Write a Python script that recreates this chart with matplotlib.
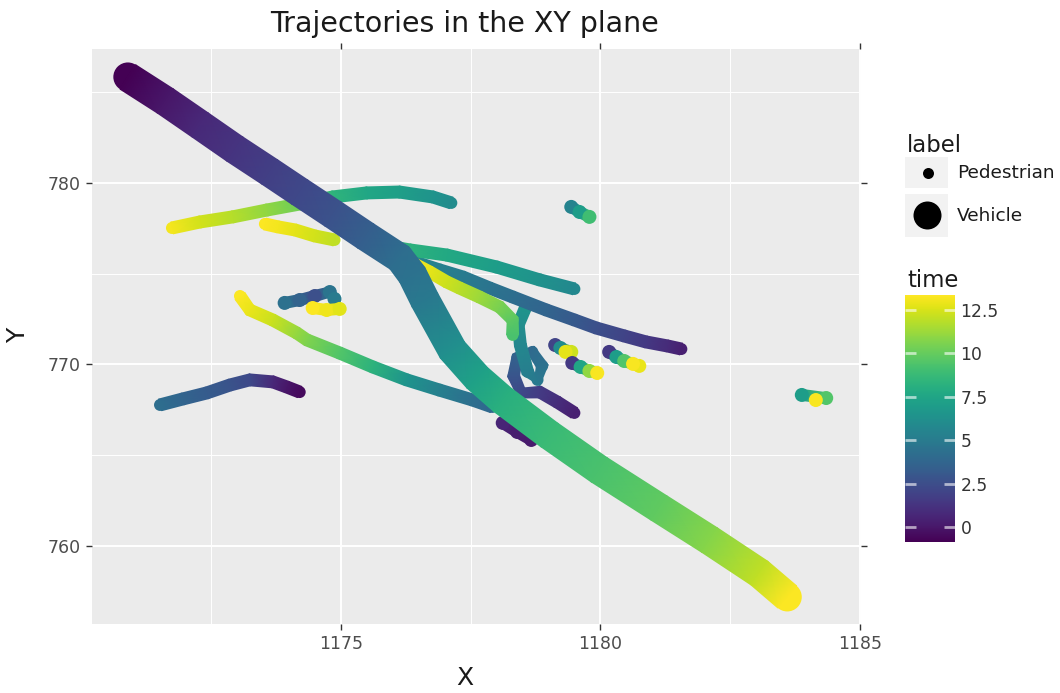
import numpy as np
import matplotlib
matplotlib.use("Agg")
import matplotlib.pyplot as plt
from matplotlib.colors import Normalize
from matplotlib.cm import ScalarMappable
from matplotlib.patches import Rectangle

# ── DATA ────────────────────────────────────────────
# vehicle track
veh_x = [1170.90, 1171.62, 1172.29, 1172.96, 1173.63, 1174.21, 1174.85, 1175.48, 1176.13, 1176.38,
         1176.62, 1177.15, 1177.63, 1178.12, 1179.02, 1179.98, 1181.13, 1182.10, 1183.06, 1183.60]
veh_y = [785.84, 784.52, 783.20, 781.87, 780.61, 779.50, 778.29, 777.08, 775.87, 774.93,
         773.55, 770.80, 769.26, 768.04, 766.11, 764.19, 762.09, 760.33, 758.51, 757.19]
veh_t = [-0.85, 0.0, 0.8, 1.3, 1.8, 2.2, 2.7, 3.4, 4.2, 4.5,
         4.9, 6.2, 7.3, 8.1, 8.8, 9.3, 9.9, 10.8, 12.0, 13.3]

# pedestrian tracks: (x, y, time)
ped_arc = [(1177.13, 778.90, 6.0), (1176.77, 779.23, 6.5), (1176.13, 779.50, 7.1), (1175.50, 779.45, 7.6),
           (1174.85, 779.23, 8.4), (1174.21, 778.84, 10.2), (1173.58, 778.51, 11.0), (1172.92, 778.13, 11.8),
           (1172.29, 777.85, 12.4), (1171.75, 777.52, 13.1)]
ped_yellow = [(1174.88, 776.86, 12.0), (1174.50, 777.08, 12.4), (1174.12, 777.41, 12.8),
              (1173.79, 777.58, 13.1), (1173.54, 777.74, 13.3)]
ped_lightgreen = [(1178.31, 771.63, 9.3), (1178.31, 772.45, 9.8), (1178.06, 773.17, 10.5), (1177.67, 773.72, 11.3),
                  (1177.29, 774.21, 11.9), (1177.04, 774.55, 12.3), (1176.71, 775.10, 12.8), (1176.38, 775.59, 13.2)]
ped_teal = [(1179.50, 774.16, 5.8), (1178.83, 774.66, 6.4), (1178.00, 775.37, 7.0),
            (1177.04, 776.03, 7.7), (1176.33, 776.31, 8.3), (1176.00, 776.47, 8.7)]
ped_long = [(1181.56, 770.85, 0.4), (1181.29, 771.02, 0.9), (1180.88, 771.24, 1.5), (1180.46, 771.57, 2.0),
            (1179.92, 772.01, 2.6), (1179.50, 772.45, 3.1), (1178.96, 773.00, 3.7), (1178.31, 773.72, 4.2),
            (1177.87, 774.21, 4.6), (1177.35, 774.82, 5.0), (1176.90, 775.21, 5.3), (1176.42, 775.65, 5.7)]
ped_low = [(1174.21, 768.48, -0.5), (1173.96, 768.76, 0.0), (1173.69, 769.04, 0.8), (1173.25, 769.15, 2.3),
           (1172.87, 768.87, 2.8), (1172.42, 768.43, 3.2), (1171.96, 768.10, 3.7), (1171.52, 767.77, 4.2)]
ped_mid = [(1177.92, 767.66, 3.9), (1177.54, 768.04, 4.3), (1176.90, 768.59, 5.3), (1176.27, 769.15, 6.5),
           (1175.62, 769.86, 8.3), (1174.98, 770.63, 9.5), (1174.35, 771.35, 10.6), (1174.15, 771.74, 11.1),
           (1173.69, 772.45, 12.2), (1173.25, 773.00, 12.9), (1173.06, 773.77, 13.3)]
ped_loop = [(1179.50, 767.33, 0.4), (1179.17, 767.93, 1.0), (1178.83, 768.48, 1.6), (1178.48, 768.43, 2.2),
            (1178.33, 769.37, 2.9), (1178.40, 770.36, 3.6), (1178.69, 770.69, 4.1), (1178.88, 769.92, 4.5),
            (1178.79, 769.15, 4.9), (1178.60, 769.59, 5.2), (1178.46, 771.07, 5.7), (1178.42, 772.18, 6.1),
            (1178.58, 773.28, 6.6)]

# short clusters (people standing around)
ped_g1 = [(1173.92, 773.39, 4.4), (1174.21, 773.55, 3.6), (1174.50, 773.77, 2.6),
          (1174.79, 773.99, 4.6), (1174.88, 773.61, 5.0)]
ped_g2 = [(1174.46, 773.11, 13.3), (1174.73, 773.00, 13.0), (1174.98, 773.06, 12.7)]
ped_h = [(1179.44, 778.68, 5.5), (1179.60, 778.40, 7.0), (1179.79, 778.13, 9.0)]
ped_i = [(1179.13, 771.07, 2.0), (1179.23, 770.91, 6.0), (1179.44, 770.69, 12.3), (1179.33, 770.69, 12.8)]
ped_j = [(1179.46, 770.08, 1.5), (1179.62, 769.86, 7.5), (1179.79, 769.64, 11.0), (1179.94, 769.53, 13.2)]
ped_k = [(1180.17, 770.69, 1.5), (1180.31, 770.41, 7.0), (1180.46, 770.19, 9.5),
         (1180.75, 769.92, 12.9), (1180.63, 770.03, 13.2)]
ped_l = [(1183.88, 768.32, 7.0), (1184.35, 768.15, 9.5), (1184.15, 768.04, 13.2)]
ped_navy = [(1178.67, 765.84, 0.1), (1178.40, 766.28, 0.3), (1178.12, 766.78, 0.6)]

walkers = [ped_loop, ped_low, ped_mid, ped_long, ped_teal, ped_lightgreen, ped_arc, ped_yellow]
standers = [ped_navy, ped_g1, ped_g2, ped_h, ped_i, ped_j, ped_k, ped_l]

T_MIN, T_MAX = -0.86, 13.36
norm = Normalize(T_MIN, T_MAX)
cmap = plt.get_cmap("viridis")

PX = 0.72  # points per pixel at dpi 100


def draw_track(ax, xs, ys, ts, width_px, dots_on_top=False, dot_px=None):
    """Trayectoria gruesa: puntos en cada paso + franja con degradado (gouraud)"""
    ts = np.asarray(ts, dtype=float)
    dot_pt = (dot_px or width_px) * PX
    dots = dict(c=ts, cmap=cmap, norm=norm, s=dot_pt ** 2, linewidths=0)
    if not dots_on_top:
        ax.scatter(xs, ys, **dots)   # extremos redondos y esquinas
    # franja alrededor de la trayectoria, en pixeles de pantalla
    disp = ax.transData.transform(np.column_stack([xs, ys]))
    tang = np.gradient(disp, axis=0)
    nrm = np.column_stack([-tang[:, 1], tang[:, 0]])
    nrm /= np.linalg.norm(nrm, axis=1)[:, None]
    inv = ax.transData.inverted()
    left = inv.transform(disp + nrm * width_px / 2)
    right = inv.transform(disp - nrm * width_px / 2)
    X = np.vstack([left[:, 0], right[:, 0]])
    Y = np.vstack([left[:, 1], right[:, 1]])
    C = np.vstack([ts, ts])
    ax.pcolormesh(X, Y, C, cmap=cmap, norm=norm, shading="gouraud")
    if dots_on_top:
        ax.scatter(xs, ys, **dots)


# ── FIGURE ─────────────────────────────────────────
W, H = 1060, 693
fig = plt.figure(figsize=(W / 100, H / 100), dpi=100)
ax = fig.add_axes([92 / W, (H - 624) / H, (861 - 92) / W, (624 - 49) / H])

ax.set_facecolor("#EBEBEB")
for s in ax.spines.values():
    s.set_visible(False)
ax.set_axisbelow(True)

ax.set_xlim(1170.21, 1185.02)
ax.set_ylim(755.70, 787.38)
ax.set_xticks([1175, 1180, 1185])
ax.set_yticks([760, 770, 780])
ax.set_xticks([1172.5, 1177.5, 1182.5], minor=True)
ax.set_yticks([765, 775, 785], minor=True)

for p in standers:
    xs, ys, ts = zip(*p)
    draw_track(ax, xs, ys, ts, 11, dots_on_top=True, dot_px=14)
for p in walkers:
    xs, ys, ts = zip(*p)
    draw_track(ax, xs, ys, ts, 12)
draw_track(ax, veh_x, veh_y, veh_t, 29)

ax.set_xlim(1170.21, 1185.02)
ax.set_ylim(755.70, 787.38)
ax.grid(which="major", color="white", linewidth=1.4)
ax.grid(which="minor", color="white", linewidth=0.7)
ax.tick_params(which="major", direction="out", length=4, width=1, color="#333333",
               labelcolor="#4D4D4D", labelsize=12.5, top=True, right=True, pad=4)
ax.tick_params(which="minor", length=0)

fig.text(465 / W, 1 - 32 / H, "Trajectories in the XY plane", ha="center", va="baseline",
         fontsize=20.5, color="#1a1a1a")
fig.text(465 / W, 1 - 685 / H, "X", ha="center", va="baseline", fontsize=18, color="#1a1a1a")
fig.text(18 / W, 1 - 335 / H, "Y", ha="center", va="center", rotation=90, fontsize=18, color="#1a1a1a")

# ── LEGEND (label) ─────────────────────────────────
lax = fig.add_axes([0, 0, 1, 1], facecolor="none")
lax.set_xlim(0, W)
lax.set_ylim(H, 0)
lax.axis("off")
lax.text(907, 152, "label", fontsize=16.4, va="baseline", ha="left", color="#1a1a1a")
lax.add_patch(Rectangle((905, 157), 43, 31, facecolor="#F2F2F2", edgecolor="none"))
lax.add_patch(Rectangle((905, 194), 43, 43, facecolor="#F2F2F2", edgecolor="none"))
lax.scatter([928], [173], s=(11 * PX) ** 2, c="black", linewidths=0)
lax.scatter([927], [215], s=(28 * PX) ** 2, c="black", linewidths=0)
lax.text(957, 173, "Pedestrian", fontsize=13.3, va="center", ha="left", color="#1a1a1a")
lax.text(957, 216, "Vehicle", fontsize=13.3, va="center", ha="left", color="#1a1a1a")
lax.text(907, 287, "time", fontsize=16.4, va="baseline", ha="left", color="#1a1a1a")

# ── COLORBAR (time) ────────────────────────────────
cax = fig.add_axes([905 / W, (H - 542) / H, 50 / W, 247 / H])
cb = fig.colorbar(ScalarMappable(norm=norm, cmap=cmap), cax=cax)
cb.outline.set_visible(False)
cb.set_ticks([0, 2.5, 5, 7.5, 10, 12.5])
cb.set_ticklabels(["0", "2.5", "5", "7.5", "10", "12.5"])
cax.minorticks_off()
cax.tick_params(axis="y", direction="in", length=8, width=2, color=(1, 1, 1, 0.6),
                left=True, right=True, labelleft=False, labelright=True,
                labelsize=12.3, labelcolor="#333333", pad=4)

fig.savefig("out.png", dpi=100)
